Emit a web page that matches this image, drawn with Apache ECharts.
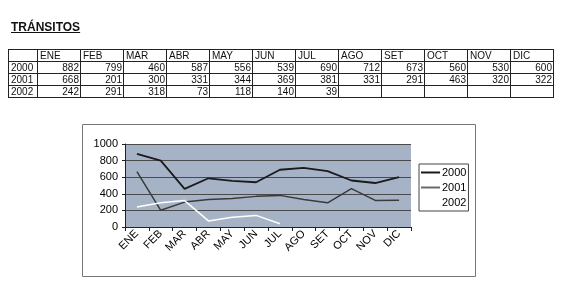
<!DOCTYPE html>
<html><head><meta charset="utf-8">
<script src="https://cdn.jsdelivr.net/npm/echarts@6/dist/echarts.min.js"></script>
<style>
html,body{margin:0;padding:0;background:#fff;width:567px;height:301px;overflow:hidden;font-family:Arial,"Liberation Sans",sans-serif;}
#chart{position:absolute;left:0;top:0;width:567px;height:301px;}
#title{position:absolute;left:11px;top:20px;font-weight:bold;font-size:12px;text-decoration:underline;z-index:2;color:#111;}
#tbl{position:absolute;left:8px;top:49px;border-collapse:collapse;z-index:2;font-size:10px;table-layout:fixed;width:546px;color:#111;background:#fff;will-change:transform;}
#tbl td{border:1px solid #222;height:11px;padding:0 1px 0 2px;line-height:11px;white-space:nowrap;overflow:hidden;}
#tbl td.n{text-align:right;}
</style>
</head><body>
<div id="chart"></div>
<div id="title">TRÁNSITOS</div>
<table id="tbl"></table>
<script>
const months = ['ENE','FEB','MAR','ABR','MAY','JUN','JUL','AGO','SET','OCT','NOV','DIC'];
const years = ['2000','2001','2002'];
const v2000 = [882,799,460,587,556,539,690,712,673,560,530,600];
const v2001 = [668,201,300,331,344,369,381,331,291,463,320,322];
const v2002 = [242,291,318,73,118,140,39,null,null,null,null,null];
const yTicks = [0,200,400,600,800,1000];
const title = 'TRÁNSITOS';

// table
const tbl = document.getElementById('tbl');
let html = '<colgroup><col style="width:29px">' + months.map(()=>'<col style="width:43px">').join('') + '</colgroup>';
html += '<tr><td></td>' + months.map(m=>'<td>'+m+'</td>').join('') + '</tr>';
[v2000,v2001,v2002].forEach((arr,i)=>{
  html += '<tr><td>'+years[i]+'</td>' + arr.map(v=>'<td class="n">'+(v==null?'':v)+'</td>').join('') + '</tr>';
});
tbl.innerHTML = html;
document.getElementById('title').textContent = title;

const chart = echarts.init(document.getElementById('chart'), null, {renderer:'canvas'});
const font = 'Arial, "Liberation Sans", sans-serif';
chart.setOption({
  animation:false,
  backgroundColor:'#fff',
  graphic:[{type:'rect', silent:true, z:-1, shape:{x:82.5,y:124.5,width:393,height:152}, style:{fill:'#fff', stroke:'#777', lineWidth:1}}],
  grid:{left:125, top:144, width:286, height:83, show:true, backgroundColor:'#a6b3c6', borderWidth:0, containLabel:false},
  xAxis:{type:'category', data:months, boundaryGap:true,
    axisLine:{show:true, lineStyle:{color:'#222', width:1}},
    axisTick:{show:true, length:4, lineStyle:{color:'#222'}},
    axisLabel:{rotate:45, interval:0, fontSize:11, color:'#000', margin:5, fontFamily:font},
    splitLine:{show:false}},
  yAxis:{type:'value', min:yTicks[0], max:yTicks[yTicks.length-1], interval:200,
    axisLine:{show:true, lineStyle:{color:'#222', width:1}},
    axisTick:{show:true, length:3, lineStyle:{color:'#222'}},
    axisLabel:{fontSize:11, color:'#000', margin:7, fontFamily:font, formatter:v=>String(v)},
    splitLine:{show:true, lineStyle:{color:'#4a4a4a', width:1}}},
  legend:{orient:'vertical', left:419, top:164, itemWidth:19, itemHeight:2, itemGap:2,
    icon:'rect',
    padding:[2,2,2,2], borderColor:'#444', borderWidth:1, backgroundColor:'#fff',
    textStyle:{fontSize:11, color:'#000', fontFamily:font, lineHeight:13, padding:[0,0,0,-3]}, data:years},
  series:[
    {name:years[0], type:'line', data:v2000, symbol:'none', lineStyle:{color:'#1a1a1a', width:1.8}, itemStyle:{color:'#1a1a1a'}},
    {name:years[1], type:'line', data:v2001, symbol:'none', lineStyle:{color:'#3a3a3a', width:1.5}, itemStyle:{color:'#6a6a6a'}},
    {name:years[2], type:'line', data:v2002, symbol:'none', connectNulls:false, lineStyle:{color:'#ffffff', width:1.5}, itemStyle:{color:'#ffffff'}}
  ]
});
</script>
</body></html>
